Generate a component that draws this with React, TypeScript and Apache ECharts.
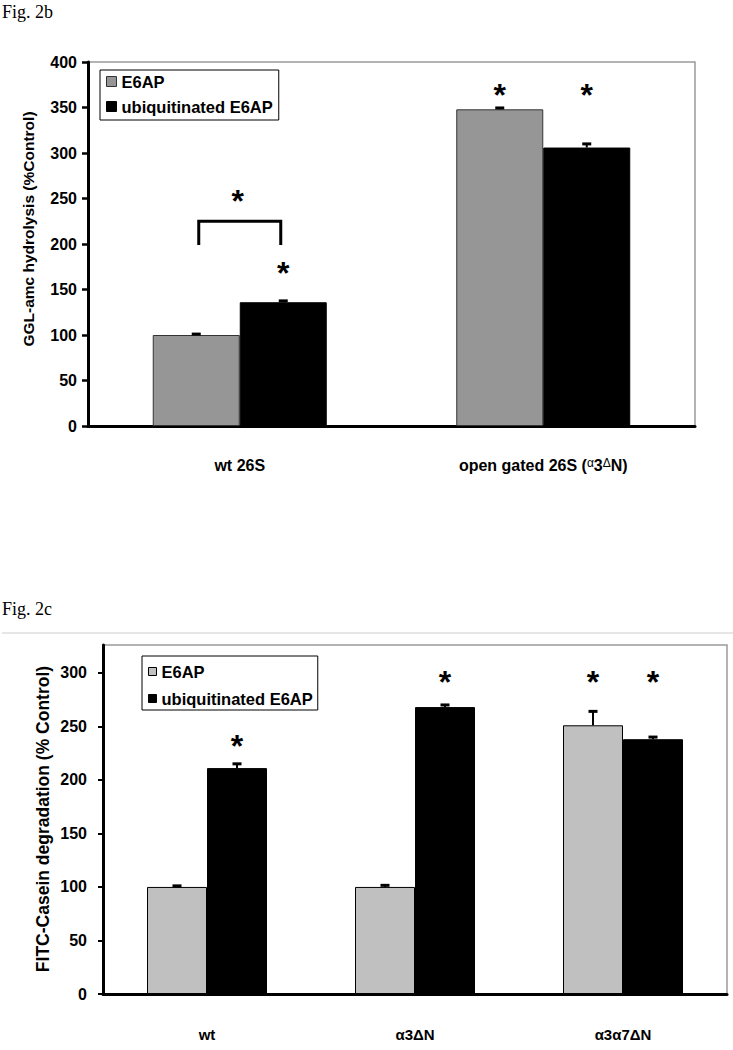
import React, { useEffect, useRef } from 'react';
import * as echarts from 'echarts';

const FONT = 'Arial, "Liberation Sans", sans-serif';
const SERIF = '"Times New Roman", "Liberation Serif", serif';

// ---- Fig. 2b data ----
const topCategories = ['wt 26S', 'open gated 26S (α3ΔN)'];
const topE6AP = [100, 348];
const topUbiq = [136, 306];
const topE6APErr = [1, 1.5];
const topUbiqErr = [1.5, 4];
// stars: [category, series (0 = E6AP, 1 = ubiquitinated), value]
const topStars = [
  [0, 1, 176],
  [1, 0, 372],
  [1, 1, 372],
];
// bracket: [category, lower value, upper value, star value]
const topBracket = [[0, 199, 225, 256]];

// ---- Fig. 2c data ----
const botCategories = ['wt', 'α3ΔN', 'α3α7ΔN'];
const botE6AP = [100, 100, 251];
const botUbiq = [211, 268, 238];
const botE6APErr = [1, 1.5, 13];
const botUbiqErr = [4, 2, 2];
const botStars = [
  [0, 1, 239],
  [1, 1, 298],
  [2, 0, 298],
  [2, 1, 298],
];
const botTicks = [0, 50, 100, 150, 200, 250, 300];

const TOP_BAR_W = 87;
const BOT_BAR_W = 60;

function errorSeries(xi: number, values: number[], errs: number[], offset: number) {
  return {
    type: 'custom',
    xAxisIndex: xi,
    yAxisIndex: xi,
    silent: true,
    clip: false,
    z: 5,
    data: values.map((v, i) => [i, v, errs[i]]),
    encode: { x: 0, y: 1 },
    renderItem: (_p: any, api: any) => {
      const c = api.value(0);
      const v = api.value(1);
      const e = api.value(2);
      const p0 = api.coord([c, v]);
      const p1 = api.coord([c, v + e]);
      const x = p0[0] + offset;
      return {
        type: 'group',
        children: [
          { type: 'line', shape: { x1: x, y1: p0[1], x2: x, y2: p1[1] }, style: { stroke: '#000', lineWidth: 2 } },
          { type: 'line', shape: { x1: x - 4.5, y1: p1[1], x2: x + 4.5, y2: p1[1] }, style: { stroke: '#000', lineWidth: 3 } },
        ],
      };
    },
  };
}

function starText(x: number, y: number) {
  return {
    type: 'text',
    x,
    y: y + 7.5,
    style: {
      text: '*',
      fontSize: 32,
      fontWeight: 'bold',
      fontFamily: FONT,
      fill: '#000',
      align: 'center',
      verticalAlign: 'middle',
    },
  };
}

function starSeries(xi: number, stars: number[][], offset: number) {
  return {
    type: 'custom',
    xAxisIndex: xi,
    yAxisIndex: xi,
    silent: true,
    clip: false,
    z: 6,
    data: stars,
    encode: { x: 0, y: 2 },
    renderItem: (_p: any, api: any) => {
      const c = api.value(0);
      const s = api.value(1);
      const p = api.coord([c, api.value(2)]);
      return starText(p[0] + (s === 0 ? -offset : offset), p[1]);
    },
  };
}

function bracketSeries() {
  return {
    type: 'custom',
    xAxisIndex: 0,
    yAxisIndex: 0,
    silent: true,
    clip: false,
    z: 6,
    data: topBracket,
    encode: { x: 0, y: 2 },
    renderItem: (_p: any, api: any) => {
      const c = api.value(0);
      const lo = api.coord([c, api.value(1)]);
      const hi = api.coord([c, api.value(2)]);
      const st = api.coord([c, api.value(3)]);
      const x0 = lo[0] - 41;
      const x1 = lo[0] + 41;
      return {
        type: 'group',
        children: [
          {
            type: 'polyline',
            shape: { points: [[x0, lo[1]], [x0, hi[1]], [x1, hi[1]], [x1, lo[1]]] },
            style: { stroke: '#000', lineWidth: 3, fill: null },
          },
          starText(st[0] - 2, st[1]),
        ],
      };
    },
  };
}

const axisLineStyle = { color: '#000', width: 3 };

export default function App() {
  const ref = useRef<HTMLDivElement>(null);

  useEffect(() => {
    document.body.style.margin = '0';
    if (!ref.current) return;
    const chart = echarts.init(ref.current, null, { renderer: 'svg' });

    const legendText = { fontSize: 16.5, fontWeight: 'bold', color: '#000', fontFamily: FONT };

    const option: any = {
      animation: false,
      textStyle: { fontFamily: FONT },
      grid: [
        { left: 88, top: 62, width: 607, height: 364, show: true, borderColor: '#9a9a9a', borderWidth: 1.5 },
        { left: 103, top: 645, width: 624, height: 349, show: true, borderColor: '#9a9a9a', borderWidth: 1.5 },
      ],
      xAxis: [
        {
          type: 'category',
          gridIndex: 0,
          data: topCategories,
          axisLine: { lineStyle: axisLineStyle },
          axisTick: { length: 6, lineStyle: { color: '#000', width: 2.5 } },
          axisLabel: {
            margin: 31,
            color: '#000',
            fontSize: 16,
            fontWeight: 'bold',
            fontFamily: FONT,
            formatter: (v: string) =>
              v.indexOf('α3ΔN') >= 0 ? 'open gated 26S ({a|α}3{d|Δ}N)' : v,
            rich: {
              a: { fontSize: 12, fontWeight: 'normal', color: '#000', fontFamily: FONT, verticalAlign: 'top' },
              d: { fontSize: 12, fontWeight: 'normal', color: '#000', fontFamily: FONT, verticalAlign: 'top' },
            },
          },
        },
        {
          type: 'category',
          gridIndex: 1,
          data: botCategories,
          axisLine: { lineStyle: axisLineStyle },
          axisTick: { length: 6, lineStyle: { color: '#000', width: 2.5 } },
          axisLabel: { margin: 33, color: '#000', fontSize: 15, fontWeight: 'bold', fontFamily: FONT },
        },
      ],
      yAxis: [
        {
          type: 'value',
          gridIndex: 0,
          min: 0,
          max: 400,
          interval: 50,
          axisLine: { show: true, lineStyle: axisLineStyle },
          axisTick: { show: true, length: 6, lineStyle: { color: '#000', width: 2.5 } },
          splitLine: { show: false },
          axisLabel: { margin: 11, color: '#000', fontSize: 16, fontWeight: 'bold', fontFamily: FONT },
        },
        {
          type: 'value',
          gridIndex: 1,
          min: 0,
          max: 326,
          axisLine: { show: true, lineStyle: axisLineStyle },
          axisTick: { show: true, length: 5, lineStyle: { color: '#000', width: 2 }, customValues: botTicks },
          splitLine: { show: false },
          axisLabel: {
            margin: 16,
            color: '#000',
            fontSize: 16,
            fontWeight: 'bold',
            fontFamily: FONT,
            customValues: botTicks,
          },
        },
      ],
      legend: [
        {
          orient: 'vertical',
          left: 100,
          top: 70,
          padding: [3, 6, 5, 6],
          itemGap: 8,
          itemWidth: 10,
          itemHeight: 10,
          icon: 'rect',
          borderColor: '#000',
          borderWidth: 1,
          backgroundColor: '#fff',
          selectedMode: false,
          textStyle: legendText,
          data: [
            { name: 'E6AP', itemStyle: { color: '#969696', borderColor: '#333', borderWidth: 1 } },
            { name: 'ubiquitinated E6AP', itemStyle: { color: '#000', borderColor: '#000', borderWidth: 1 } },
          ],
        },
        {
          orient: 'vertical',
          left: 142,
          top: 656,
          padding: [7, 5, 3, 6],
          itemGap: 10,
          itemWidth: 8,
          itemHeight: 8,
          icon: 'rect',
          borderColor: '#000',
          borderWidth: 1,
          backgroundColor: '#fff',
          selectedMode: false,
          textStyle: legendText,
          data: [
            { name: 'E6AP', itemStyle: { color: '#c0c0c0', borderColor: '#000', borderWidth: 1 } },
            { name: 'ubiquitinated E6AP', itemStyle: { color: '#000', borderColor: '#000', borderWidth: 1 } },
          ],
        },
      ],
      series: [
        {
          name: 'E6AP',
          type: 'bar',
          xAxisIndex: 0,
          yAxisIndex: 0,
          data: topE6AP,
          barWidth: TOP_BAR_W,
          barGap: '0%',
          itemStyle: { color: '#969696', borderColor: '#333', borderWidth: 1 },
        },
        {
          name: 'ubiquitinated E6AP',
          type: 'bar',
          xAxisIndex: 0,
          yAxisIndex: 0,
          data: topUbiq,
          barWidth: TOP_BAR_W,
          barGap: '0%',
          itemStyle: { color: '#000', borderColor: '#000', borderWidth: 1 },
        },
        errorSeries(0, topE6AP, topE6APErr, -TOP_BAR_W / 2),
        errorSeries(0, topUbiq, topUbiqErr, TOP_BAR_W / 2),
        starSeries(0, topStars, TOP_BAR_W / 2),
        bracketSeries(),
        {
          name: 'E6AP',
          type: 'bar',
          xAxisIndex: 1,
          yAxisIndex: 1,
          data: botE6AP,
          barWidth: BOT_BAR_W,
          barGap: '0%',
          itemStyle: { color: '#c0c0c0', borderColor: '#000', borderWidth: 1 },
        },
        {
          name: 'ubiquitinated E6AP',
          type: 'bar',
          xAxisIndex: 1,
          yAxisIndex: 1,
          data: botUbiq,
          barWidth: BOT_BAR_W,
          barGap: '0%',
          itemStyle: { color: '#000', borderColor: '#000', borderWidth: 1 },
        },
        errorSeries(1, botE6AP, botE6APErr, -BOT_BAR_W / 2),
        errorSeries(1, botUbiq, botUbiqErr, BOT_BAR_W / 2),
        starSeries(1, botStars, BOT_BAR_W / 2),
      ],
      graphic: [
        {
          type: 'text',
          left: 2,
          top: 3,
          style: { text: 'Fig. 2b', fontSize: 18, fontFamily: SERIF, fill: '#000' },
        },
        {
          type: 'text',
          left: 2,
          top: 600,
          style: { text: 'Fig. 2c', fontSize: 18, fontFamily: SERIF, fill: '#000' },
        },
        {
          type: 'line',
          shape: { x1: 2, y1: 633, x2: 733, y2: 633 },
          style: { stroke: '#cccccc', lineWidth: 1 },
        },
        {
          type: 'text',
          x: 28,
          y: 229,
          rotation: Math.PI / 2,
          style: {
            text: 'GGL-amc hydrolysis (%Control)',
            fontSize: 15.5,
            fontWeight: 'bold',
            fontFamily: FONT,
            fill: '#000',
            align: 'center',
            verticalAlign: 'middle',
          },
        },
        {
          type: 'text',
          x: 43,
          y: 819,
          rotation: Math.PI / 2,
          style: {
            text: 'FITC-Casein degradation (% Control)',
            fontSize: 17.5,
            fontWeight: 'bold',
            fontFamily: FONT,
            fill: '#000',
            align: 'center',
            verticalAlign: 'middle',
          },
        },
      ],
    };

    chart.setOption(option);
    return () => chart.dispose();
  }, []);

  return <div ref={ref} style={{ width: 733, height: 1050 }} />;
}
